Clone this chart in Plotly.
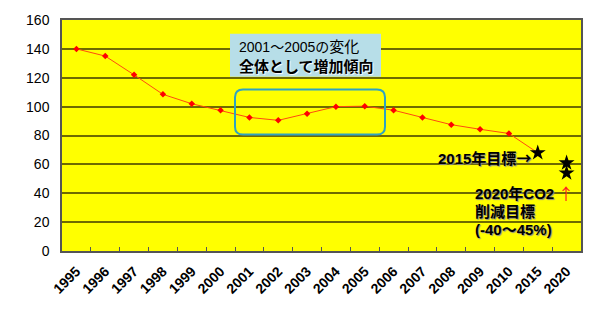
import plotly.graph_objects as go

categories = ["1995", "1996", "1997", "1998", "1999", "2000", "2001", "2002", "2003",
              "2004", "2005", "2006", "2007", "2008", "2009", "2010", "2015", "2020"]
emissions = [140, 135, 122, 108.5, 102, 97.5, 92.5, 90.5, 95, 100, 100.3, 97.5, 92.5,
             87.5, 84.3, 81.4, 68, None]
target_2015_x = ["2015"]
target_2015_y = [68]
target_2020_x = ["2020", "2020"]
target_2020_y = [61, 54]
y_ticks = [0, 20, 40, 60, 80, 100, 120, 140, 160]

L, R, T, B = 62, 581, 15, 251
W, H = R - L, B - T
def px(x):
    return (x - L) / W
def py(y):
    return (B - y) / H

fig = go.Figure()
fig.add_trace(go.Scatter(
    x=categories, y=emissions, mode="lines+markers",
    line=dict(color="#FF4A10", width=1),
    marker=dict(color="#FF0000", size=5, symbol="diamond"),
    connectgaps=False, showlegend=False, hoverinfo="x+y"))
fig.add_trace(go.Scatter(
    x=target_2015_x + target_2020_x, y=target_2015_y + target_2020_y, mode="markers",
    marker=dict(color="black", size=12, symbol="star"),
    showlegend=False))

fig.update_layout(
    width=600, height=311,
    margin=dict(l=L, r=600 - R, t=T, b=311 - B),
    paper_bgcolor="white", plot_bgcolor="#FFFF00",
    font=dict(family="Liberation Sans, Noto Sans CJK JP", color="black"),
    xaxis=dict(type="category", categoryorder="array", categoryarray=categories,
               tickson="boundaries", ticks="inside", ticklen=4, tickcolor="#555",
               tickangle=-45, ticklabelstandoff=5,
               tickfont=dict(size=14, family="Liberation Sans", weight="bold"),
               showline=True, linecolor="#555", linewidth=1.5, mirror=True,
               showgrid=False, range=[-0.5, 17.5], fixedrange=True),
    yaxis=dict(range=[0, 160], tickvals=y_ticks, ticks="", ticklabelstandoff=8,
               tickfont=dict(size=14, family="Liberation Sans"),
               showgrid=True, gridcolor="#6E6A00", gridwidth=1.5,
               showline=True, linecolor="#555", linewidth=1.5, mirror=True,
               zeroline=False, fixedrange=True),
)

shapes = []
# light blue label box
shapes.append(dict(type="rect", xref="paper", yref="paper",
                   x0=px(230), x1=px(381), y0=py(73), y1=py(29),
                   fillcolor="#B7DEE8", line=dict(width=0), layer="above"))
# rounded outline box
x0, x1, y0, y1 = px(235), px(385), py(132), py(86)
rx, ry = 8 / W, 8 / H
path = (f"M {x0+rx},{y0} L {x1-rx},{y0} Q {x1},{y0} {x1},{y0+ry} "
        f"L {x1},{y1-ry} Q {x1},{y1} {x1-rx},{y1} L {x0+rx},{y1} "
        f"Q {x0},{y1} {x0},{y1-ry} L {x0},{y0+ry} Q {x0},{y0} {x0+rx},{y0} Z")
shapes.append(dict(type="path", xref="paper", yref="paper", path=path,
                   line=dict(color="#2EA3C2", width=2), fillcolor="rgba(0,0,0,0)"))
fig.update_layout(shapes=shapes)

jp = "Liberation Sans, Noto Sans CJK JP"
cjk = "Noto Sans CJK JP"
shadow = "1px 1px 1px #8a8a8a"
ann = [
    dict(x=px(237), y=py(42), text="2001～2005の<span style='font-size:15px'>変化</span>",
         xanchor="left", font=dict(size=14, family=jp, color="black")),
    dict(x=px(237), y=py(63), text="全体として増加傾向", xanchor="left",
         font=dict(size=15, family=jp, color="black", weight="bold", shadow="1px 1px 1px white")),
    dict(x=px(533), y=py(155),
         text=f"2015年目標<span style=\"font-family:'{cjk}'\">→</span>", xanchor="right",
         font=dict(size=15, family=jp, color="black", weight="bold", shadow=shadow)),
    dict(x=px(473), y=py(192), text="2020年CO2", xanchor="left",
         font=dict(size=15, family=jp, color="black", weight="bold", shadow=shadow)),
    dict(x=px(566), y=py(192), text="↑", xanchor="center",
         font=dict(size=16, family=cjk, color="#FF2020")),
    dict(x=px(473), y=py(211), text="削減目標", xanchor="left",
         font=dict(size=15, family=jp, color="black", weight="bold", shadow=shadow)),
    dict(x=px(473), y=py(229), text="(-40～45%)", xanchor="left",
         font=dict(size=15, family=jp, color="black", weight="bold", shadow=shadow)),
]
for a in ann:
    a.update(xref="paper", yref="paper", showarrow=False, yanchor="middle")
fig.update_layout(annotations=ann)

fig.write_html("out.html")
